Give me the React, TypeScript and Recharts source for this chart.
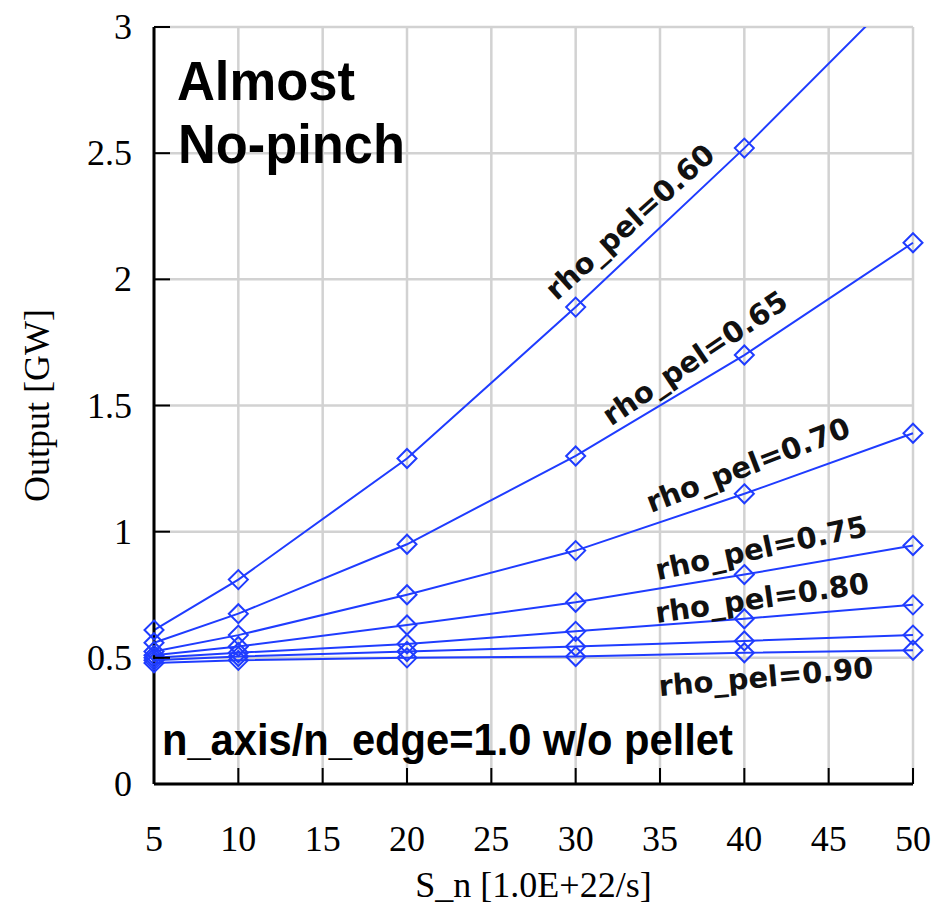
import React from 'react';
import { LineChart, Line, XAxis, YAxis, CartesianGrid, ReferenceDot } from 'recharts';

// ---- data ----
const sn = [5, 10, 20, 30, 40, 50];
const rho060 = [0.61, 0.81, 1.29, 1.89, 2.52, 3.19];
const rho065 = [0.56, 0.675, 0.95, 1.3, 1.7, 2.145];
const rho070 = [0.525, 0.59, 0.75, 0.925, 1.15, 1.39];
const rho075 = [0.51, 0.545, 0.63, 0.72, 0.83, 0.945];
const rho080 = [0.5, 0.52, 0.555, 0.605, 0.655, 0.71];
const rho085 = [0.49, 0.505, 0.525, 0.545, 0.567, 0.59];
const rho090 = [0.48, 0.49, 0.5, 0.505, 0.52, 0.53];
const seriesKeys = ['r060', 'r065', 'r070', 'r075', 'r080', 'r085', 'r090'];
const seriesValues = [rho060, rho065, rho070, rho075, rho080, rho085, rho090];

const xTicks = [5, 10, 15, 20, 25, 30, 35, 40, 45, 50];
const yTicks = [0, 0.5, 1, 1.5, 2, 2.5, 3];

const curveLabels = ['rho_pel=0.60', 'rho_pel=0.65', 'rho_pel=0.70', 'rho_pel=0.75', 'rho_pel=0.80', 'rho_pel=0.90'];
// annotation anchors (data coords) and angles
const curveLabelX = [33.22, 37.07, 40.22, 41.0, 41.05, 41.28];
const curveLabelY = [2.227, 1.688, 1.264, 0.935, 0.737, 0.424];
const curveLabelAngle = [-42, -34, -21, -12, -8, -5];

const tableData = sn.map((x, i) => {
  const row: any = { x };
  seriesKeys.forEach((k, j) => { row[k] = seriesValues[j][i]; });
  return row;
});

const BLUE = '#1f3cff';
const SERIF = '"Liberation Serif", "Times New Roman", serif';
const SANS = '"Liberation Sans", Arial, sans-serif';
const DEJAVU = '"DejaVu Sans", sans-serif';

const Diamond = (props: any) => {
  const { cx, cy } = props;
  if (cx == null || cy == null) return null;
  const r = 9.5;
  return (
    <polygon
      points={`${cx},${cy - r} ${cx + r},${cy} ${cx},${cy + r} ${cx - r},${cy}`}
      fill="none"
      stroke={BLUE}
      strokeWidth={2}
    />
  );
};

const BottomTick = (props: any) => {
  const { x, y, payload } = props;
  return (
    <g>
      <line x1={x} y1={y} x2={x} y2={y - 16} stroke="#000" strokeWidth={2} />
      <text x={x} y={y + 55} textAnchor="middle" dominantBaseline="central" fontFamily={SERIF} fontSize={36} fill="#000">
        {payload.value}
      </text>
    </g>
  );
};
const TopTick = (props: any) => {
  const { x, y } = props;
  return <line x1={x} y1={y} x2={x} y2={y + 16} stroke="#000" strokeWidth={2} />;
};
const LeftTick = (props: any) => {
  const { x, y, payload } = props;
  return (
    <g>
      <line x1={x} y1={y} x2={x + 16} y2={y} stroke="#000" strokeWidth={2} />
      <text x={x - 22} y={y} textAnchor="end" dominantBaseline="central" fontFamily={SERIF} fontSize={36} fill="#000">
        {payload.value}
      </text>
    </g>
  );
};
const RightTick = (props: any) => {
  const { x, y } = props;
  return <line x1={x} y1={y} x2={x - 16} y2={y} stroke="#000" strokeWidth={2} />;
};

const XTitle = (props: any) => {
  const { viewBox } = props;
  const cx = viewBox.x + viewBox.width / 2;
  return (
    <text x={cx} y={877} textAnchor="middle" dominantBaseline="central" fontFamily={SERIF} fontSize={36} fill="#000">
      S_n [1.0E+22/s]
    </text>
  );
};
const YTitle = (props: any) => {
  const { viewBox } = props;
  const cy = viewBox.y + viewBox.height / 2;
  return (
    <text x={29} y={cy} transform={`rotate(-90, 29, ${cy})`} textAnchor="middle" dominantBaseline="central" fontFamily={SERIF} fontSize={36} fill="#000">
      Output [GW]
    </text>
  );
};

const makeRotLabel = (text: string, angle: number) => (props: any) => {
  const { cx, cy } = props;
  return (
    <text
      x={cx}
      y={cy}
      transform={`rotate(${angle}, ${cx}, ${cy})`}
      textAnchor="middle"
      dominantBaseline="central"
      fontFamily={DEJAVU}
      fontWeight="bold"
      fontSize={29}
      fill="#111"
    >
      {text}
    </text>
  );
};

const makeBigText = (text: string, size: number, len: number) => (props: any) => {
  const { cx, cy } = props;
  return (
    <text x={cx} y={cy} fontFamily={SANS} fontWeight="bold" fontSize={size} fill="#000" textLength={len} lengthAdjust="spacingAndGlyphs">
      {text}
    </text>
  );
};

export default function App() {
  return (
    <div style={{ width: 931, height: 903 }}>
      <LineChart width={931} height={903} data={tableData} margin={{ top: 19, right: 26, left: 0, bottom: 0 }}>
        <CartesianGrid stroke="#d2d2d2" strokeWidth={2.5} />
        <XAxis
          dataKey="x"
          type="number"
          domain={[5, 50]}
          ticks={xTicks}
          interval={0}
          height={127}
          tickSize={0}
          tickMargin={0}
          tickLine={false}
          tick={<BottomTick />}
          axisLine={{ stroke: '#000', strokeWidth: 3 }}
          label={<XTitle />}
        />
        <XAxis
          xAxisId="top"
          orientation="top"
          dataKey="x"
          type="number"
          domain={[5, 50]}
          ticks={xTicks}
          interval={0}
          height={0}
          tickSize={0}
          tickMargin={0}
          tickLine={false}
          tick={<TopTick />}
          axisLine={{ stroke: '#000', strokeWidth: 3 }}
        />
        <YAxis
          type="number"
          domain={[0, 3]}
          ticks={yTicks}
          interval={0}
          allowDataOverflow
          width={146}
          tickSize={0}
          tickMargin={0}
          tickLine={false}
          tick={<LeftTick />}
          axisLine={{ stroke: '#000', strokeWidth: 3 }}
          label={<YTitle />}
        />
        <YAxis
          yAxisId="right"
          orientation="right"
          type="number"
          domain={[0, 3]}
          ticks={yTicks}
          interval={0}
          allowDataOverflow
          width={0}
          tickSize={0}
          tickMargin={0}
          tickLine={false}
          tick={<RightTick />}
          axisLine={{ stroke: '#000', strokeWidth: 3 }}
        />
        {seriesKeys.map((k) => (
          <Line
            key={k}
            dataKey={k}
            type="linear"
            stroke={BLUE}
            strokeWidth={2}
            dot={<Diamond />}
            activeDot={false}
            isAnimationActive={false}
          />
        ))}
        {curveLabels.map((t, i) => (
          <ReferenceDot
            key={t}
            x={curveLabelX[i]}
            y={curveLabelY[i]}
            r={0}
            shape={makeRotLabel(t, curveLabelAngle[i])}
          />
        ))}
        <ReferenceDot x={6.36} y={2.711} r={0} shape={makeBigText('Almost', 55, 178)} />
        <ReferenceDot x={6.42} y={2.461} r={0} shape={makeBigText('No-pinch', 55, 227)} />
        <ReferenceDot x={5.47} y={0.115} r={0} shape={makeBigText('n_axis/n_edge=1.0 w/o pellet', 44, 571)} />
      </LineChart>
    </div>
  );
}
